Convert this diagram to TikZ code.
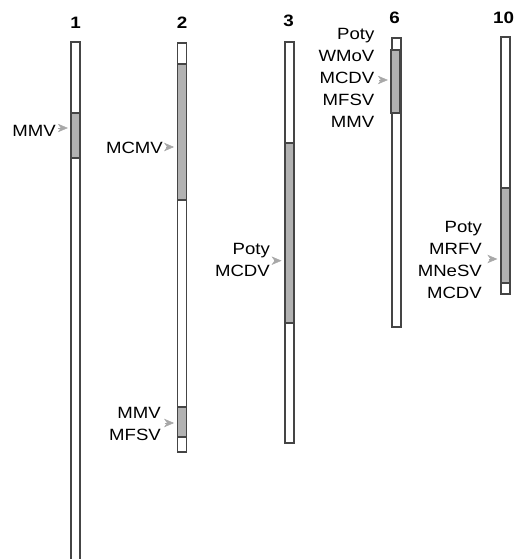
\documentclass[tikz,border=0pt]{standalone}
\usepackage{fontspec}
\setmainfont{Liberation Sans}
\newfontfamily\labfont[FakeStretch=1.14]{Liberation Sans}
\usetikzlibrary{arrows.meta}
\definecolor{outl}{HTML}{454545}
\definecolor{segfill}{HTML}{B2B2B2}
\definecolor{arrc}{HTML}{A8A8A8}
\tikzset{
  chrom/.style={draw=outl, line width=1.9pt, fill=white, inner sep=0pt, minimum width=9pt},
  seg/.style={draw=outl, line width=1.9pt, fill=segfill, inner sep=0pt, minimum width=9pt},
  lab/.style={inner sep=0pt, align=right, anchor=north east, font=\labfont\fontsize{16.3}{22}\selectfont},
  num/.style={inner sep=0pt, anchor=base, font=\labfont\fontsize{16.5}{18}\selectfont\bfseries},
  arr/.style={draw=arrc, line width=0.5pt, -{Stealth[length=10pt,width=8.5pt,inset=3pt]}}
}
\begin{document}
\begin{tikzpicture}[x=1pt,y=-1pt]
\clip (0,0) rectangle (517,559);
% numbers
\node[num] (n1) at (75.5,28.3) {1};
\node[num] (n2) at (182,28.3) {2};
\node[num] (n3) at (288.5,26.7) {3};
\node[num] (n6) at (394.5,24) {6};
\node[num] (n10) at (503.5,24) {10};
% chromosomes
\node[chrom, minimum height=558pt] (c1) at (75.8,321) {};
\node[chrom, minimum height=409.3pt] (c2) at (182,247.35) {};
\node[chrom, minimum height=400.7pt] (c3) at (289.5,242.65) {};
\node[chrom, minimum height=288.7pt] (c6) at (396.2,182.65) {};
\node[chrom, minimum height=257pt] (c10) at (505.3,165.5) {};
% segments
\node[seg, minimum height=44.4pt] (g1) at (75.8,135.5) {};
\node[seg, minimum height=136pt] (g2a) at (182,132) {};
\node[seg, minimum height=30pt] (g2b) at (182,422) {};
\node[seg, minimum height=180pt] (g3) at (289.5,233) {};
\node[seg, minimum height=63.3pt] (g6) at (395.8,81.65) {};
\node[seg, minimum height=95pt] (g10) at (505.3,235.5) {};
% labels
\node[lab] (l1) at (56,125) {MMV};
\node[lab] (l2a) at (163,142) {MCMV};
\node[lab] (l2b) at (161,407) {MMV\\MFSV};
\node[lab] (l3) at (270,243) {Poty\\MCDV};
\node[lab] (l6) at (374.5,28.3) {Poty\\WMoV\\MCDV\\MFSV\\MMV};
\node[lab] (l10) at (482,221) {Poty\\MRFV\\MNeSV\\MCDV};
% arrows
\coordinate (a1) at (58,128);
\coordinate (a2a) at (166,147);
\coordinate (a2b) at (164.5,423);
\coordinate (a3) at (274,260.7);
\coordinate (a6) at (379,80);
\coordinate (a10) at (488.5,259);
\draw[arr] (a1) -- ([xshift=-2.5pt]a1 -| g1.west);
\draw[arr] (a2a) -- ([xshift=-2.5pt]a2a -| g2a.west);
\draw[arr] (a2b) -- ([xshift=-2.5pt]a2b -| g2b.west);
\draw[arr] (a3) -- ([xshift=-2.5pt]a3 -| g3.west);
\draw[arr] (a6) -- ([xshift=-2.5pt]a6 -| g6.west);
\draw[arr] (a10) -- ([xshift=-2.5pt]a10 -| g10.west);
\end{tikzpicture}
\end{document}
